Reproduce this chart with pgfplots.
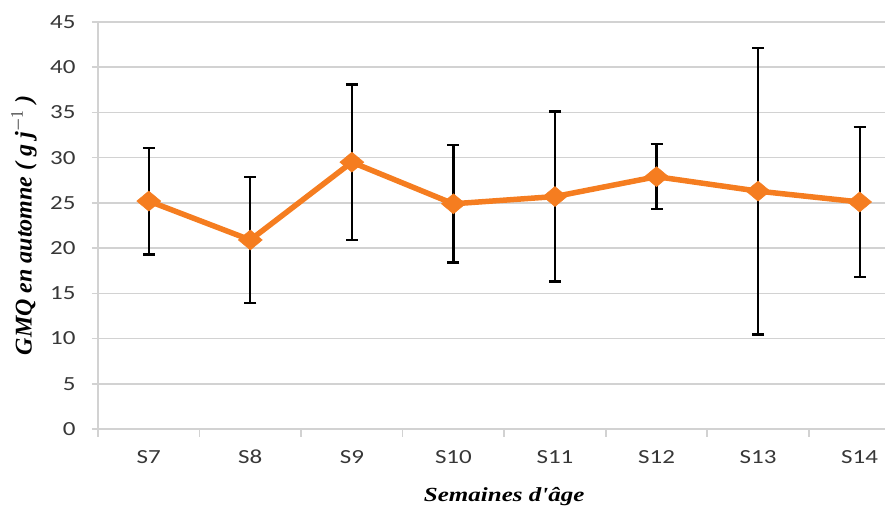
\documentclass[border=0pt]{standalone}
\usepackage{fontspec}
\usepackage{pgfplots}
\pgfplotsset{compat=1.18}
\usetikzlibrary{calc}
\setmainfont{Liberation Serif}
\newfontfamily\carlito[FakeStretch=1.25]{Carlito}
\newfontfamily\labfont[FakeStretch=1.25]{Liberation Serif}
\definecolor{lineor}{RGB}{245,125,32}
\definecolor{gridc}{RGB}{210,210,210}
\definecolor{tickc}{RGB}{55,55,55}
\begin{document}
\begin{tikzpicture}
\begin{axis}[name=ax, width=787pt, height=407pt, scale only axis,
  xmin=-0.5, xmax=7.25, ymin=0, ymax=45,
  ytick={0,5,...,45},
  xtick={0,...,7},
  xticklabels={S7,S8,S9,S10,S11,S12,S13,S14},
  minor xtick={-0.5,0.5,...,6.5},
  axis x line=bottom, axis y line=left,
  axis line style={-, draw=gridc, line width=1.6pt},
  ymajorgrids, grid style={draw=gridc, line width=1.6pt},
  tick align=outside,
  major x tick style={draw=none},
  minor x tick style={draw=gridc, line width=1.6pt},
  minor tick length=8pt,
  major y tick style={draw=gridc, line width=1.6pt},
  major tick length=6pt,
  /pgf/number format/assume math mode=true,
  ticklabel style={font=\carlito\fontsize{20}{24}\selectfont, text=tickc},
  xticklabel style={anchor=center, yshift=-22pt},
  yticklabel style={xshift=-13pt},
  ylabel={\textbf{\textit{GMQ en automne ( g j$^{-1}$ )}}},
  ylabel style={at={(axis description cs:-0.094,0.5)}, anchor=center, font=\fontsize{24}{28}\selectfont},
  xlabel={\labfont\textbf{\textit{Semaines d'âge}}},
  xlabel style={at={(axis cs:3.5,0)}, yshift=-68pt, anchor=center, font=\fontsize{20}{24}\selectfont},
]
\addplot[color=lineor, line width=5.5pt, mark=diamond*, mark size=10pt,
  mark options={fill=lineor, draw=lineor, line width=0.5pt, xscale=1.6},
  error bars/.cd, y dir=both, y explicit,
  error bar style={black, line width=2.2pt},
  error mark options={rotate=90, black, mark size=6pt, line width=2.2pt}]
coordinates {
(0,25.2) +- (0,5.9)
(1,20.9) +- (0,6.95)
(2,29.5) +- (0,8.6)
(3,24.9) +- (0,6.5)
(4,25.7) +- (0,9.4)
(5,27.9) +- (0,3.6)
(6,26.3) +- (0,15.85)
(7,25.1) +- (0,8.25)
};
\end{axis}
\pgfresetboundingbox
\path ($(ax.south west)+(-98pt,-85pt)$) rectangle ($(ax.north east)+(0pt,22pt)$);
\end{tikzpicture}
\end{document}
